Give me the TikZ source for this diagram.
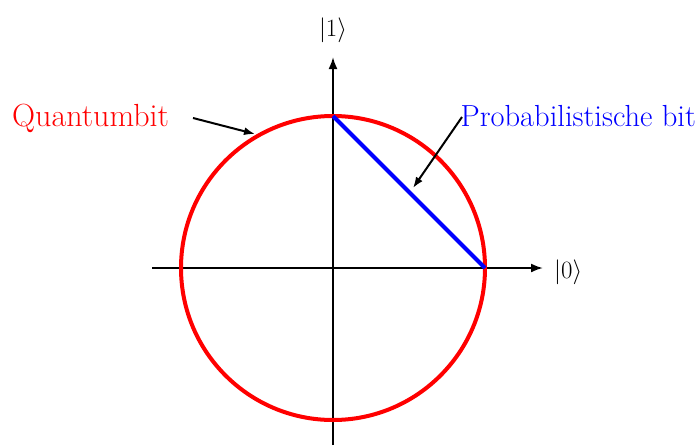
\documentclass[tikz,border=0pt]{standalone}
\usetikzlibrary{arrows.meta}
\begin{document}
\begin{tikzpicture}[x=1pt,y=-1pt,
  axis/.style={line width=2pt,-{Latex[length=12pt,width=9pt]}},
  pointer/.style={line width=2pt,-{Latex[length=11pt,width=8pt]}},
  lbl/.style={inner sep=0pt,font=\fontsize{32}{38}\selectfont}]
\useasboundingbox (0,0) rectangle (699,445);
\coordinate (O) at (333,268);
\coordinate (xs) at (152,268);
\coordinate (xe) at (543,268);
\coordinate (ys) at (333,445);
\coordinate (ye) at (333,57);
\coordinate (top) at (333,116);
\coordinate (right) at (485,268);
\draw[axis] (xs) -- (xe);
\draw[axis] (ys) -- (ye);
\node[lbl,anchor=base west] (k0) at (554,278) {$|0\rangle$};
\node[lbl,anchor=base] (k1) at (333,36) {$|1\rangle$};
\draw[red,line width=4pt] (O) circle[radius=152];
\draw[blue,line width=4pt] (top) -- (right);
\node[lbl,red,anchor=base west] (qb) at (12,126) {Quantumbit};
\node[lbl,blue,anchor=base east,font=\fontsize{30.5}{36}\selectfont] (pb) at (696,126) {Probabilistische bit};
\coordinate (qa) at (193,118);
\coordinate (qt) at (255,134);
\coordinate (pa) at (462,117);
\coordinate (pt) at (413,188);
\draw[pointer] (qa) -- (qt);
\draw[pointer] (pa) -- (pt);
\end{tikzpicture}
\end{document}
